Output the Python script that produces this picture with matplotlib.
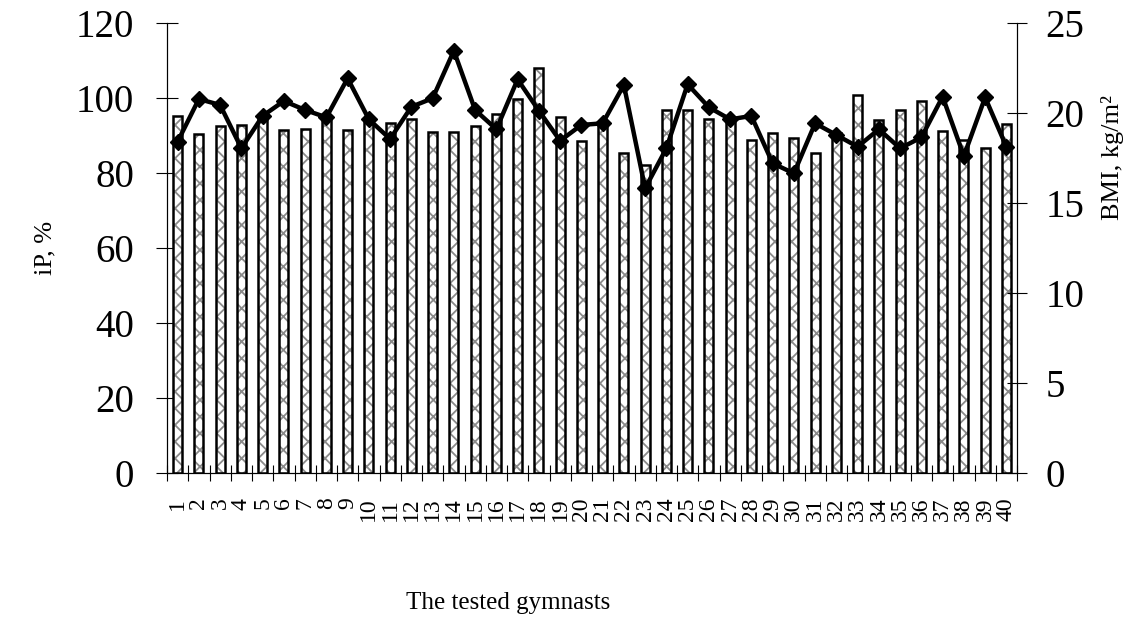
import matplotlib
matplotlib.use('Agg')
import matplotlib.pyplot as plt

plt.rcParams['font.family'] = ['Liberation Serif', 'DejaVu Serif']
plt.rcParams['hatch.linewidth'] = 1.3

# gymnasts 1..40
gymnasts = list(range(1, 41))
ip_pct = [95.2, 90.2, 92.5, 92.8, 94.5, 91.5, 91.6, 95.0, 91.3, 94.5,
          93.2, 94.3, 90.9, 90.9, 92.5, 95.6, 99.6, 107.8, 94.8, 88.5,
          93.5, 85.2, 82.1, 96.7, 96.7, 94.4, 94.0, 88.7, 90.7, 89.2,
          85.3, 90.5, 100.6, 94.1, 96.8, 99.0, 91.0, 88.7, 86.6, 93.1]
bmi = [18.39, 20.76, 20.43, 18.02, 19.82, 20.65, 20.15, 19.74, 21.91, 19.63,
       18.54, 20.33, 20.80, 23.44, 20.15, 19.08, 21.85, 20.11, 18.44, 19.32,
       19.41, 21.54, 15.80, 18.02, 21.58, 20.30, 19.63, 19.82, 17.19, 16.63,
       19.41, 18.76, 18.11, 19.08, 18.02, 18.63, 20.89, 17.59, 20.85, 18.11]
left_ticks = [0, 20, 40, 60, 80, 100, 120]
right_ticks = [0, 5, 10, 15, 20, 25]

fig = plt.figure(figsize=(11.26, 6.21), dpi=100)
ax = fig.add_axes([167/1126, 1-472.7/621, (1017-167)/1126, 450/621])

# hatched fill first, then black outline on top
ax.bar(gymnasts, ip_pct, width=0.42, color='white', edgecolor='#8a8a8a',
       hatch='xx', linewidth=0, zorder=2)
ax.bar(gymnasts, ip_pct, width=0.42, color='none', edgecolor='black',
       linewidth=1.8, zorder=3)

ax.set_xlim(0.5, 40.5)
ax.set_ylim(0, 120)
ax.set_yticks(left_ticks)
ax.set_xticks(gymnasts)
ax.set_xticklabels([str(g) for g in gymnasts], rotation=90, fontsize=17)
ax.set_xticks([g - 0.5 for g in gymnasts] + [40.5], minor=True)
ax.tick_params(axis='x', which='major', length=0, pad=18)
ax.tick_params(axis='x', which='minor', direction='inout', length=11.5, width=0.8)
ax.tick_params(axis='y', direction='inout', length=15.5, width=0.8, pad=16, labelsize=28)
ax.spines['top'].set_visible(False)
for s in ['left', 'bottom', 'right']:
    ax.spines[s].set_linewidth(0.8)

ax2 = ax.twinx()
ax2.plot(gymnasts, bmi, color='black', linewidth=3.2, marker='D',
         markersize=8.5, markeredgewidth=1, zorder=4)
ax2.set_ylim(0, 25)
ax2.set_yticks(right_ticks)
ax2.tick_params(axis='y', direction='inout', length=15, width=0.8, pad=13, labelsize=28)
ax2.spines['top'].set_visible(False)
ax2.spines['right'].set_linewidth(0.8)

fig.text(45/1126, 1-248/621, 'iP, %', rotation=90, ha='center', va='center', fontsize=19)
fig.text(1112/1126, 1-158/621, 'BMI, kg/m²', rotation=90, ha='center', va='center', fontsize=19)
fig.text(508/1126, 1-603/621, 'The tested gymnasts', ha='center', va='center', fontsize=18)

fig.savefig('out.png', dpi=100)
